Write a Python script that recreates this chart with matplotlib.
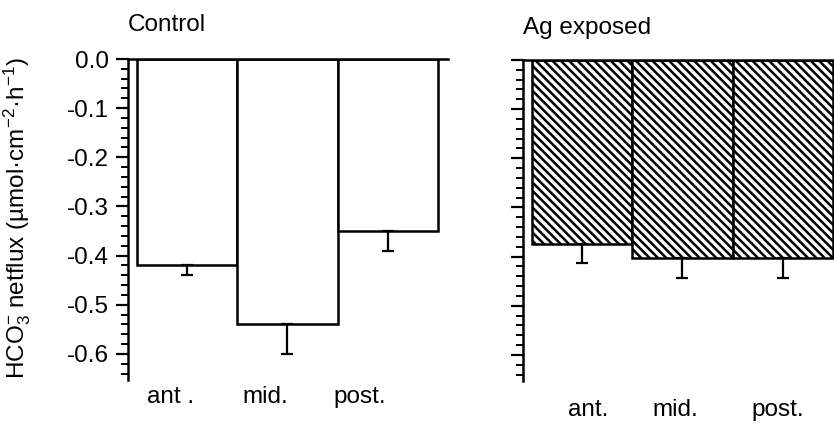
import matplotlib
matplotlib.use("Agg")
import matplotlib.pyplot as plt
from matplotlib.ticker import MultipleLocator, FormatStrFormatter

plt.rcParams['font.family'] = ['Liberation Sans', 'DejaVu Sans']
plt.rcParams['mathtext.fontset'] = 'custom'
plt.rcParams['mathtext.rm'] = 'Liberation Sans'
plt.rcParams['mathtext.it'] = 'Liberation Sans:italic'
plt.rcParams['mathtext.bf'] = 'Liberation Sans:bold'
plt.rcParams['hatch.linewidth'] = 1.8

# ---- data ----
control_labels = ["ant .", "mid.", "post."]
control_values = [-0.42, -0.54, -0.35]
control_err = [0.02, 0.06, 0.04]

ag_labels = ["ant.", "mid.", "post."]
ag_values = [-0.375, -0.403, -0.403]
ag_err = [0.037, 0.040, 0.040]

panel_titles = ["Control", "Ag exposed"]
ylabel = r"HCO$_3^{-}$ netflux (µmol·cm$^{-2}$·h$^{-1}$)"

W, H = 834, 429
fig = plt.figure(figsize=(W / 100, H / 100), dpi=100)

def px_axes(x0, y_top, x1, y_bot):
    return fig.add_axes([x0 / W, 1 - y_bot / H, (x1 - x0) / W, (y_bot - y_top) / H])

ax1 = px_axes(128, 59, 448, 380)
ax2 = px_axes(523, 60, 843, 381)

FS = 17.5

def style(ax, values, errs, labels, title, hatch, show_ylabels, label_pad,
          label_shifts, title_pad):
    x = list(range(len(values)))
    ax.bar(x, values, width=1.0, color='white', edgecolor='black',
           linewidth=1.8, hatch=hatch, zorder=2)
    lower = errs
    upper = [0] * len(errs)
    ax.errorbar(x, values, yerr=[lower, upper], fmt='none', ecolor='black',
                elinewidth=1.6, capsize=4.5, capthick=1.6, zorder=3)
    ax.set_xlim(-0.59, 2.6)
    ax.set_ylim(-0.653, 0.0)
    ax.spines['right'].set_visible(False)
    ax.spines['bottom'].set_visible(False)
    ax.spines['left'].set_linewidth(1.8)
    ax.spines['top'].set_linewidth(1.8)
    ax.yaxis.set_major_locator(MultipleLocator(0.1))
    ax.yaxis.set_minor_locator(MultipleLocator(0.02))
    ax.yaxis.set_major_formatter(FormatStrFormatter('%.1f'))
    ax.tick_params(axis='y', which='major', direction='out', length=9, width=1.6,
                   labelsize=FS, pad=5, labelleft=show_ylabels)
    ax.tick_params(axis='y', which='minor', direction='out', length=5, width=1.4)
    ax.set_xticks([xi + s for xi, s in zip(x, label_shifts)])
    ax.set_xticklabels(labels)
    ax.tick_params(axis='x', length=0, labelsize=FS, pad=label_pad)
    ax.set_title(title, loc='left', fontsize=FS, pad=title_pad)
    ax.patch.set_alpha(0)

style(ax1, control_values, control_err, control_labels, panel_titles[0], None,
      True, 4, [-0.17, -0.22, -0.28], 20)
style(ax2, ag_values, ag_err, ag_labels, panel_titles[1], '\\\\\\\\',
      False, 13, [0.06, -0.07, -0.05], 19)

fig.text(17 / W, 1 - 218 / H, ylabel, rotation=90, ha='center', va='center', fontsize=FS)

fig.savefig("out.png", dpi=100)
